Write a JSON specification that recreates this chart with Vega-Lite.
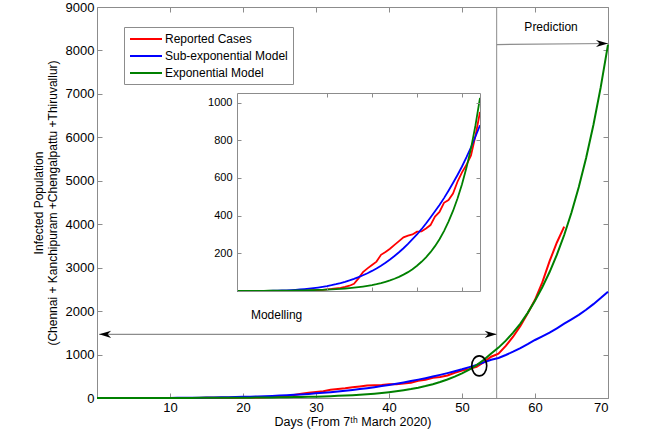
{
  "$schema": "https://vega.github.io/schema/vega-lite/v6.json",
  "width": 511,
  "height": 391,
  "autosize": "none",
  "padding": {"left": 97, "top": 7, "right": 42, "bottom": 44},
  "background": "white",
  "config": {
    "view": {"stroke": null},
    "font": "Liberation Sans",
    "axis": {
      "grid": false,
      "domainColor": "#8c8c8c",
      "tickColor": "#8c8c8c",
      "tickSize": -5,
      "labelPadding": 8,
      "labelFont": "Liberation Sans",
      "labelFontSize": 13,
      "labelColor": "black",
      "titleFont": "Liberation Sans",
      "titleFontSize": 12.5,
      "titleFontWeight": "normal",
      "titleColor": "black",
      "format": "d"
    }
  },
  "datasets": {
    "curves": [
      {"series":"Reported Cases","day":0,"value":1},{"series":"Reported Cases","day":1,"value":1},{"series":"Reported Cases","day":2,"value":1},{"series":"Reported Cases","day":3,"value":1},{"series":"Reported Cases","day":4,"value":1},{"series":"Reported Cases","day":5,"value":1},{"series":"Reported Cases","day":6,"value":1},{"series":"Reported Cases","day":7,"value":1},{"series":"Reported Cases","day":8,"value":1},{"series":"Reported Cases","day":9,"value":1},{"series":"Reported Cases","day":10,"value":1},{"series":"Reported Cases","day":11,"value":1},{"series":"Reported Cases","day":12,"value":1},{"series":"Reported Cases","day":13,"value":1},{"series":"Reported Cases","day":14,"value":2},{"series":"Reported Cases","day":15,"value":3},{"series":"Reported Cases","day":16,"value":3},{"series":"Reported Cases","day":17,"value":4},{"series":"Reported Cases","day":18,"value":5},{"series":"Reported Cases","day":19,"value":6},{"series":"Reported Cases","day":20,"value":9},{"series":"Reported Cases","day":21,"value":11},{"series":"Reported Cases","day":22,"value":14},{"series":"Reported Cases","day":23,"value":17},{"series":"Reported Cases","day":24,"value":22},{"series":"Reported Cases","day":25,"value":28},{"series":"Reported Cases","day":26,"value":38},{"series":"Reported Cases","day":27,"value":67},{"series":"Reported Cases","day":28,"value":100},{"series":"Reported Cases","day":29,"value":120},{"series":"Reported Cases","day":30,"value":138},{"series":"Reported Cases","day":31,"value":156},{"series":"Reported Cases","day":32,"value":192},{"series":"Reported Cases","day":33,"value":207},{"series":"Reported Cases","day":34,"value":224},{"series":"Reported Cases","day":35,"value":245},{"series":"Reported Cases","day":36,"value":265},{"series":"Reported Cases","day":37,"value":285},{"series":"Reported Cases","day":38,"value":294},{"series":"Reported Cases","day":39,"value":300},{"series":"Reported Cases","day":40,"value":315},{"series":"Reported Cases","day":41,"value":316},{"series":"Reported Cases","day":42,"value":332},{"series":"Reported Cases","day":43,"value":350},{"series":"Reported Cases","day":44,"value":395},{"series":"Reported Cases","day":45,"value":420},{"series":"Reported Cases","day":46,"value":468},{"series":"Reported Cases","day":47,"value":483},{"series":"Reported Cases","day":48,"value":517},{"series":"Reported Cases","day":49,"value":580},{"series":"Reported Cases","day":50,"value":630},{"series":"Reported Cases","day":51,"value":670},{"series":"Reported Cases","day":52,"value":720},{"series":"Reported Cases","day":53,"value":825},{"series":"Reported Cases","day":54,"value":950},{"series":"Reported Cases","day":55,"value":1020},{"series":"Reported Cases","day":56,"value":1200},{"series":"Reported Cases","day":57,"value":1411},{"series":"Reported Cases","day":58,"value":1660},{"series":"Reported Cases","day":59,"value":1950},{"series":"Reported Cases","day":60,"value":2260},{"series":"Reported Cases","day":61,"value":2660},{"series":"Reported Cases","day":62,"value":3150},{"series":"Reported Cases","day":63,"value":3580},{"series":"Reported Cases","day":64,"value":3943},
      {"series":"Sub-exponential Model","day":0,"value":0},{"series":"Sub-exponential Model","day":1,"value":0.04},{"series":"Sub-exponential Model","day":2,"value":0.08},{"series":"Sub-exponential Model","day":3,"value":0.16},{"series":"Sub-exponential Model","day":4,"value":0.28},{"series":"Sub-exponential Model","day":5,"value":0.46},{"series":"Sub-exponential Model","day":6,"value":0.72},{"series":"Sub-exponential Model","day":7,"value":1.07},{"series":"Sub-exponential Model","day":8,"value":1.53},{"series":"Sub-exponential Model","day":9,"value":2.13},{"series":"Sub-exponential Model","day":10,"value":2.88},{"series":"Sub-exponential Model","day":11,"value":3.83},{"series":"Sub-exponential Model","day":12,"value":4.98},{"series":"Sub-exponential Model","day":13,"value":6.38},{"series":"Sub-exponential Model","day":14,"value":8.06},{"series":"Sub-exponential Model","day":15,"value":10.05},{"series":"Sub-exponential Model","day":16,"value":12.4},{"series":"Sub-exponential Model","day":17,"value":15.1},{"series":"Sub-exponential Model","day":18,"value":18.3},{"series":"Sub-exponential Model","day":19,"value":21.9},{"series":"Sub-exponential Model","day":20,"value":26},{"series":"Sub-exponential Model","day":21,"value":30.7},{"series":"Sub-exponential Model","day":22,"value":36},{"series":"Sub-exponential Model","day":23,"value":41.9},{"series":"Sub-exponential Model","day":24,"value":48.6},{"series":"Sub-exponential Model","day":25,"value":56},{"series":"Sub-exponential Model","day":26,"value":64.2},{"series":"Sub-exponential Model","day":27,"value":73.3},{"series":"Sub-exponential Model","day":28,"value":83.4},{"series":"Sub-exponential Model","day":29,"value":94.5},{"series":"Sub-exponential Model","day":30,"value":106.6},{"series":"Sub-exponential Model","day":31,"value":119.8},{"series":"Sub-exponential Model","day":32,"value":134.3},{"series":"Sub-exponential Model","day":33,"value":150},{"series":"Sub-exponential Model","day":34,"value":167},{"series":"Sub-exponential Model","day":35,"value":185.5},{"series":"Sub-exponential Model","day":36,"value":205.5},{"series":"Sub-exponential Model","day":37,"value":227},{"series":"Sub-exponential Model","day":38,"value":250},{"series":"Sub-exponential Model","day":39,"value":275},{"series":"Sub-exponential Model","day":40,"value":300},{"series":"Sub-exponential Model","day":41,"value":328},{"series":"Sub-exponential Model","day":42,"value":358},{"series":"Sub-exponential Model","day":43,"value":390},{"series":"Sub-exponential Model","day":44,"value":423},{"series":"Sub-exponential Model","day":45,"value":457},{"series":"Sub-exponential Model","day":46,"value":493},{"series":"Sub-exponential Model","day":47,"value":532},{"series":"Sub-exponential Model","day":48,"value":573},{"series":"Sub-exponential Model","day":49,"value":616},{"series":"Sub-exponential Model","day":50,"value":661},{"series":"Sub-exponential Model","day":51,"value":710},{"series":"Sub-exponential Model","day":52,"value":763},{"series":"Sub-exponential Model","day":53,"value":820},{"series":"Sub-exponential Model","day":54,"value":880},{"series":"Sub-exponential Model","day":55,"value":920},{"series":"Sub-exponential Model","day":56,"value":990},{"series":"Sub-exponential Model","day":57,"value":1066},{"series":"Sub-exponential Model","day":58,"value":1150},{"series":"Sub-exponential Model","day":59,"value":1240},{"series":"Sub-exponential Model","day":60,"value":1335},{"series":"Sub-exponential Model","day":61,"value":1420},{"series":"Sub-exponential Model","day":62,"value":1505},{"series":"Sub-exponential Model","day":63,"value":1605},{"series":"Sub-exponential Model","day":64,"value":1710},{"series":"Sub-exponential Model","day":65,"value":1810},{"series":"Sub-exponential Model","day":66,"value":1915},{"series":"Sub-exponential Model","day":67,"value":2030},{"series":"Sub-exponential Model","day":68,"value":2160},{"series":"Sub-exponential Model","day":69,"value":2300},{"series":"Sub-exponential Model","day":70,"value":2447},
      {"series":"Exponential Model","day":0,"value":0.4},{"series":"Exponential Model","day":1,"value":0.5},{"series":"Exponential Model","day":2,"value":0.6},{"series":"Exponential Model","day":3,"value":0.7},{"series":"Exponential Model","day":4,"value":0.8},{"series":"Exponential Model","day":5,"value":0.9},{"series":"Exponential Model","day":6,"value":1},{"series":"Exponential Model","day":7,"value":1.2},{"series":"Exponential Model","day":8,"value":1.3},{"series":"Exponential Model","day":9,"value":1.5},{"series":"Exponential Model","day":10,"value":1.8},{"series":"Exponential Model","day":11,"value":2},{"series":"Exponential Model","day":12,"value":2.3},{"series":"Exponential Model","day":13,"value":2.7},{"series":"Exponential Model","day":14,"value":3.1},{"series":"Exponential Model","day":15,"value":3.6},{"series":"Exponential Model","day":16,"value":4.2},{"series":"Exponential Model","day":17,"value":4.8},{"series":"Exponential Model","day":18,"value":5.6},{"series":"Exponential Model","day":19,"value":6.4},{"series":"Exponential Model","day":20,"value":7.4},{"series":"Exponential Model","day":21,"value":8.6},{"series":"Exponential Model","day":22,"value":9.9},{"series":"Exponential Model","day":23,"value":11.5},{"series":"Exponential Model","day":24,"value":13.2},{"series":"Exponential Model","day":25,"value":15.3},{"series":"Exponential Model","day":26,"value":17.7},{"series":"Exponential Model","day":27,"value":20.4},{"series":"Exponential Model","day":28,"value":23.6},{"series":"Exponential Model","day":29,"value":27.3},{"series":"Exponential Model","day":30,"value":31.5},{"series":"Exponential Model","day":31,"value":36.4},{"series":"Exponential Model","day":32,"value":42},{"series":"Exponential Model","day":33,"value":49},{"series":"Exponential Model","day":34,"value":56},{"series":"Exponential Model","day":35,"value":65},{"series":"Exponential Model","day":36,"value":75},{"series":"Exponential Model","day":37,"value":87},{"series":"Exponential Model","day":38,"value":100},{"series":"Exponential Model","day":39,"value":116},{"series":"Exponential Model","day":40,"value":134},{"series":"Exponential Model","day":41,"value":155},{"series":"Exponential Model","day":42,"value":179},{"series":"Exponential Model","day":43,"value":206},{"series":"Exponential Model","day":44,"value":238},{"series":"Exponential Model","day":45,"value":275},{"series":"Exponential Model","day":46,"value":318},{"series":"Exponential Model","day":47,"value":368},{"series":"Exponential Model","day":48,"value":425},{"series":"Exponential Model","day":49,"value":491},{"series":"Exponential Model","day":50,"value":567},{"series":"Exponential Model","day":51,"value":655},{"series":"Exponential Model","day":52,"value":757},{"series":"Exponential Model","day":53,"value":880},{"series":"Exponential Model","day":54,"value":1025},{"series":"Exponential Model","day":55,"value":1160},{"series":"Exponential Model","day":56,"value":1320},{"series":"Exponential Model","day":57,"value":1503},{"series":"Exponential Model","day":58,"value":1713},{"series":"Exponential Model","day":59,"value":1960},{"series":"Exponential Model","day":60,"value":2240},{"series":"Exponential Model","day":61,"value":2548},{"series":"Exponential Model","day":62,"value":2899},{"series":"Exponential Model","day":63,"value":3298},{"series":"Exponential Model","day":64,"value":3752},{"series":"Exponential Model","day":65,"value":4268},{"series":"Exponential Model","day":66,"value":4856},{"series":"Exponential Model","day":67,"value":5524},{"series":"Exponential Model","day":68,"value":6284},{"series":"Exponential Model","day":69,"value":7149},{"series":"Exponential Model","day":70,"value":8133}
    ]
  },
  "layer": [
    {
      "layer": [
        {
          "data": {"values": [{"day": 54.75}]},
          "mark": {"type": "rule", "color": "#8c8c8c", "strokeWidth": 1},
          "encoding": {
            "x": {"field": "day", "type": "quantitative", "scale": {"domain": [0, 70], "nice": false, "zero": false}, "axis": null}
          }
        },
        {
          "data": {"name": "curves"},
          "transform": [{"filter": "datum.series === 'Reported Cases'"}],
          "mark": {"type": "line", "strokeWidth": 2},
          "encoding": {
            "x": {"field": "day", "type": "quantitative", "scale": {"domain": [0, 70], "nice": false, "zero": false},
              "axis": {"orient": "bottom", "values": [10, 20, 30, 40, 50, 60, 70], "title": "Days (From 7ᵗʰ March 2020)", "titlePadding": 1}},
            "y": {"field": "value", "type": "quantitative", "scale": {"domain": [0, 9000], "nice": false},
              "axis": {"orient": "left", "values": [0, 1000, 2000, 3000, 4000, 5000, 6000, 7000, 8000, 9000], "title": ["Infected Population", "(Chennai + Kanchipuram +Chengalpattu +Thiruvallur)"], "titleFontSize": 12, "titleLineHeight": 14, "titlePadding": 6, "labelPadding": 8}},
            "color": {"field": "series", "type": "nominal",
              "scale": {"domain": ["Reported Cases", "Sub-exponential Model", "Exponential Model"], "range": ["#ff0000", "#0000ff", "#008000"]},
              "legend": {"orient": "none", "legendX": 27, "legendY": 20, "title": null, "symbolType": "M-1,0H4.33", "symbolSize": 144, "symbolStrokeWidth": 2, "labelOffset": 22, "labelFontSize": 12, "labelFont": "Liberation Sans", "labelColor": "black", "padding": 5, "rowPadding": 4, "strokeColor": "#8c8c8c", "fillColor": "white"}}
          }
        },
        {
          "data": {"name": "curves"},
          "transform": [{"filter": "datum.series === 'Sub-exponential Model'"}],
          "mark": {"type": "line", "strokeWidth": 2},
          "encoding": {
            "x": {"field": "day", "type": "quantitative", "scale": {"domain": [0, 70], "nice": false, "zero": false},
              "axis": {"orient": "top", "values": [10, 20, 30, 40, 50, 60, 70], "labels": false, "title": null}},
            "y": {"field": "value", "type": "quantitative", "scale": {"domain": [0, 9000], "nice": false},
              "axis": {"orient": "right", "values": [0, 1000, 2000, 3000, 4000, 5000, 6000, 7000, 8000, 9000], "labels": false, "title": null}},
            "color": {"field": "series", "type": "nominal"}
          }
        },
        {
          "data": {"name": "curves"},
          "transform": [{"filter": "datum.series === 'Exponential Model'"}],
          "mark": {"type": "line", "strokeWidth": 2},
          "encoding": {
            "x": {"field": "day", "type": "quantitative", "scale": {"domain": [0, 70], "nice": false, "zero": false}, "axis": null},
            "y": {"field": "value", "type": "quantitative", "scale": {"domain": [0, 9000], "nice": false}, "axis": null},
            "color": {"field": "series", "type": "nominal"}
          }
        },
        {
          "data": {"values": [{"day": 0.3, "day2": 54.75, "value": 1466, "value2": 1466}, {"day": 54.75, "day2": 70, "value": 8135, "value2": 8160}]},
          "mark": {"type": "rule", "color": "#8c8c8c", "strokeWidth": 1.2},
          "encoding": {
            "x": {"field": "day", "type": "quantitative", "scale": {"domain": [0, 70], "nice": false, "zero": false}, "axis": null},
            "x2": {"field": "day2"},
            "y": {"field": "value", "type": "quantitative", "scale": {"domain": [0, 9000], "nice": false}, "axis": null},
            "y2": {"field": "value2"}
          }
        },
        {
          "data": {"values": [{"day": 54.75, "value": 1466, "dir": "right"}, {"day": 70, "value": 8160, "dir": "right"}, {"day": 0.3, "value": 1466, "dir": "left"}]},
          "mark": {"type": "point", "filled": true, "color": "black", "opacity": 1, "size": 144, "strokeWidth": 0},
          "encoding": {
            "x": {"field": "day", "type": "quantitative", "scale": {"domain": [0, 70], "nice": false, "zero": false}, "axis": null},
            "y": {"field": "value", "type": "quantitative", "scale": {"domain": [0, 9000], "nice": false}, "axis": null},
            "shape": {"field": "dir", "type": "nominal", "legend": null,
              "scale": {"domain": ["right", "left"], "range": ["M0,0L-2,-0.6L-1.4,0L-2,0.6Z", "M0,0L2,-0.6L1.4,0L2,0.6Z"]}}
          }
        },
        {
          "data": {"values": [{"day": 52.36, "value": 740}]},
          "mark": {"type": "point", "filled": false, "color": "black", "opacity": 1, "size": 400, "strokeWidth": 1.6, "shape": "M-0.75,0A0.75,1 0 1,1 0.75,0A0.75,1 0 1,1 -0.75,0Z"},
          "encoding": {
            "x": {"field": "day", "type": "quantitative", "scale": {"domain": [0, 70], "nice": false, "zero": false}, "axis": null},
            "y": {"field": "value", "type": "quantitative", "scale": {"domain": [0, 9000], "nice": false}, "axis": null}
          }
        },
        {
          "data": {"values": [{"day": 62.2, "value": 8547, "label": "Prediction"}, {"day": 24.6, "value": 1911, "label": "Modelling"}]},
          "mark": {"type": "text", "font": "Liberation Sans", "fontSize": 12, "color": "black", "align": "center", "baseline": "middle"},
          "encoding": {
            "x": {"field": "day", "type": "quantitative", "scale": {"domain": [0, 70], "nice": false, "zero": false}, "axis": null},
            "y": {"field": "value", "type": "quantitative", "scale": {"domain": [0, 9000], "nice": false}, "axis": null},
            "text": {"field": "label"}
          }
        }
      ],
      "resolve": {"axis": {"x": "independent", "y": "independent"}}
    },
    {
      "layer": [
        {
          "data": {"name": "curves"},
          "transform": [{"filter": "datum.series === 'Reported Cases' && datum.day <= 54"}],
          "mark": {"type": "line", "strokeWidth": 1.8},
          "encoding": {
            "x": {"field": "day", "type": "quantitative", "scale": {"domain": [0, 54], "range": [140, 383], "nice": false, "zero": false},
              "axis": {"orient": "bottom", "offset": -107, "values": [20, 30, 40, 50], "labels": false, "title": null, "tickSize": -4, "zindex": 1}},
            "y": {"field": "value", "type": "quantitative", "scale": {"domain": [0, 1051], "range": [284, 86], "nice": false},
              "axis": {"orient": "left", "offset": -140, "values": [200, 400, 600, 800, 1000], "title": null, "tickSize": -4, "labelPadding": 9, "labelFontSize": 11, "zindex": 1}},
            "color": {"field": "series", "type": "nominal"}
          }
        },
        {
          "data": {"name": "curves"},
          "transform": [{"filter": "datum.series === 'Sub-exponential Model' && datum.day <= 54"}],
          "mark": {"type": "line", "strokeWidth": 1.8},
          "encoding": {
            "x": {"field": "day", "type": "quantitative", "scale": {"domain": [0, 54], "range": [140, 383], "nice": false, "zero": false},
              "axis": {"orient": "top", "offset": -86, "values": [20, 30, 40, 50], "labels": false, "title": null, "tickSize": -4, "zindex": 1}},
            "y": {"field": "value", "type": "quantitative", "scale": {"domain": [0, 1051], "range": [284, 86], "nice": false},
              "axis": {"orient": "right", "offset": -128, "values": [200, 400, 600, 800, 1000], "labels": false, "title": null, "tickSize": -4, "zindex": 1}},
            "color": {"field": "series", "type": "nominal"}
          }
        },
        {
          "data": {"name": "curves"},
          "transform": [{"filter": "datum.series === 'Exponential Model' && datum.day <= 54"}],
          "mark": {"type": "line", "strokeWidth": 1.8},
          "encoding": {
            "x": {"field": "day", "type": "quantitative", "scale": {"domain": [0, 54], "range": [140, 383], "nice": false, "zero": false}, "axis": null},
            "y": {"field": "value", "type": "quantitative", "scale": {"domain": [0, 1051], "range": [284, 86], "nice": false}, "axis": null},
            "color": {"field": "series", "type": "nominal"}
          }
        }
      ],
      "resolve": {"axis": {"x": "independent", "y": "independent"}}
    }
  ],
  "resolve": {"scale": {"x": "independent", "y": "independent"}}
}
